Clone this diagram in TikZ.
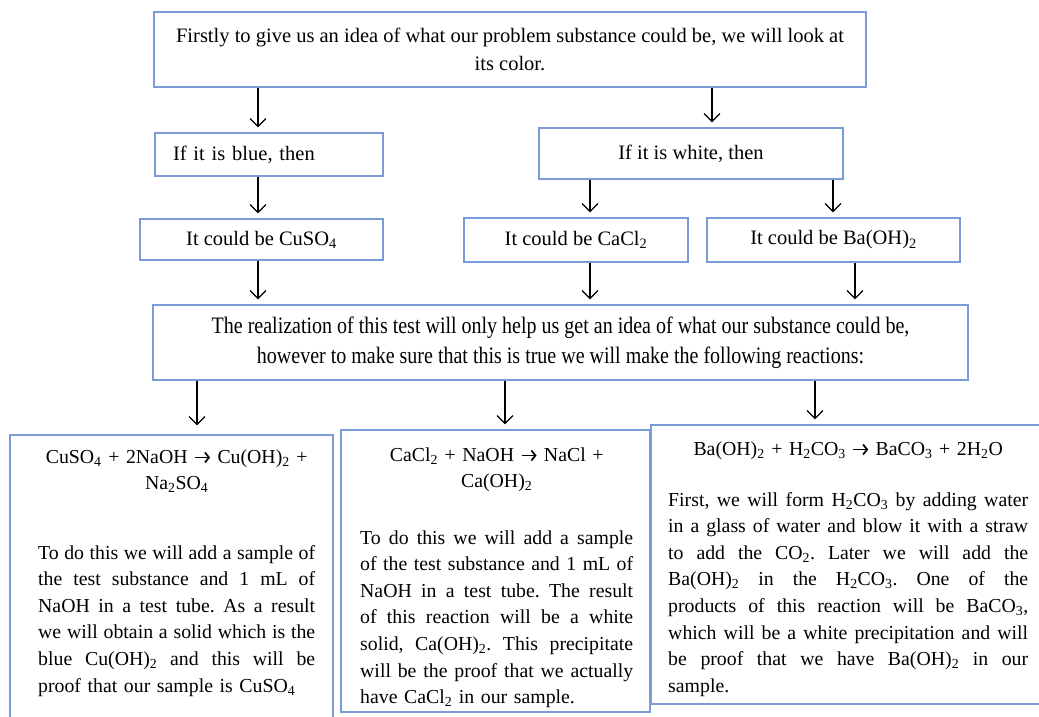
\documentclass[tikz,border=0pt]{standalone}
\usepackage{graphicx}
\usepackage{fontspec}
\setmainfont{Liberation Serif}
\usetikzlibrary{positioning, arrows.meta}
\definecolor{boxblue}{RGB}{122,156,214}
\tikzset{>={Straight Barb[length=8pt,width=16pt]}}
\frenchspacing
\newcommand{\bodysize}{\fontsize{20.5}{26.6}\selectfont}
\newcommand{\reactsize}{\fontsize{19.8}{26.6}\selectfont}
\newcommand{\sbs}[1]{\textsubscript{#1}}
\newcommand{\rarr}{\tikz[baseline=-5.5pt]\draw[line width=1.7pt, -{Straight Barb[length=4pt,width=10pt]}] (0pt,0pt) -- (15pt,0pt);}
\newcommand{\tallline}[1]{\scalebox{1}[1.18]{#1}}
\newcommand{\justline}[1]{\makebox[\linewidth][s]{\spaceskip=4.95pt plus 30pt minus 1.9pt\relax #1}}
\newcommand{\ctrline}[1]{\makebox[\linewidth]{#1}}

\begin{document}
\begin{tikzpicture}
    [
        x=1pt, y=-1pt,
        box/.style={rectangle, draw=boxblue, line width=1.1pt, inner sep=0pt, font=\bodysize},
        flow/.style={->, line width=1.3pt, shorten >=5pt},
        txt/.style={inner sep=0pt, anchor=base west, font=\reactsize},
    ]
  \clip (0,0) rectangle (1039,717);

  % question boxes
  \node[box, minimum width=712pt, minimum height=75pt, align=center, font=\fontsize{20.5}{28}\selectfont] (intro) at (510,49.5)
    {Firstly to give us an idea of what our problem substance could be, we will look at\\ its color.};
  \node[box, minimum width=228pt, minimum height=43pt, text width=192pt, inner xsep=18pt, align=left] (blue) at (269,154.5) {If it is blue, then};
  \node[box, minimum width=304pt, minimum height=51pt] (white) at (691,153.5) {If it is white, then};
  \node[box, minimum width=243pt, minimum height=41pt] (cuso) at (261.5,239.5) {It could be CuSO\sbs{4}};
  \node[box, minimum width=224pt, minimum height=44pt] (cacl) at (576,240) {It could be CaCl\sbs{2}};
  \node[box, minimum width=253pt, minimum height=44pt] (baoh) at (833.5,240) {It could be Ba(OH)\sbs{2}};
  \node[box, minimum width=815pt, minimum height=75pt, align=center, font=\fontsize{20}{30}\selectfont] (real) at (560.5,342.5)
    {\tallline{The realization of this test will only help us get an idea of what our substance could be,}\\
     \tallline{however to make sure that this is true we will make the following reactions:}};

  % reaction boxes
  \node[box, minimum width=323pt, minimum height=300pt] (rCu) at (171.5,585) {};
  \node[box, minimum width=309pt, minimum height=282pt] (rCa) at (495.5,571) {};
  \node[box, minimum width=394pt, minimum height=279pt] (rBa) at (848,564.5) {};

  \node[txt, text width=277pt] (tCu) at (38,463) {%
    \ctrline{CuSO\sbs{4} + 2NaOH \rarr{} Cu(OH)\sbs{2} +}\\
    \ctrline{Na\sbs{2}SO\sbs{4}}\\[42.8pt]
    \justline{To do this we will add a sample of}\\
    \justline{the test substance and 1 mL of}\\
    \justline{NaOH in a test tube. As a result}\\
    \justline{we will obtain a solid which is the}\\
    \justline{blue Cu(OH)\sbs{2} and this will be}\\
    proof that our sample is CuSO\sbs{4}};
  \node[txt, text width=273pt] (tCa) at (360,461) {%
    \ctrline{CaCl\sbs{2} + NaOH \rarr{} NaCl +}\\
    \ctrline{Ca(OH)\sbs{2}}\\[29.8pt]
    \justline{To do this we will add a sample}\\
    \justline{of the test substance and 1 mL of}\\
    \justline{NaOH in a test tube. The result}\\
    \justline{of this reaction will be a white}\\
    \justline{solid, Ca(OH)\sbs{2}. This precipitate}\\
    \justline{will be the proof that we actually}\\
    have CaCl\sbs{2} in our sample.};
  \node[txt, text width=360pt] (tBa) at (668,455) {%
    \ctrline{Ba(OH)\sbs{2} + H\sbs{2}CO\sbs{3} \rarr{} BaCO\sbs{3} + 2H\sbs{2}O}\\[24.4pt]
    \justline{First, we will form H\sbs{2}CO\sbs{3} by adding water}\\
    \justline{in a glass of water and blow it with a straw}\\
    \justline{to add the CO\sbs{2}. Later we will add the}\\
    \justline{Ba(OH)\sbs{2} in the H\sbs{2}CO\sbs{3}. One of the}\\
    \justline{products of this reaction will be BaCO\sbs{3},}\\
    \justline{which will be a white precipitation and will}\\
    \justline{be proof that we have Ba(OH)\sbs{2} in our}\\
    sample.};

  % arrows
  \draw[flow] (intro.south -| 258,0) -- (blue.north -| 258,0);
  \draw[flow] (intro.south -| 712,0) -- (white.north -| 712,0);
  \draw[flow] (blue.south -| 258,0) -- (cuso.north -| 258,0);
  \draw[flow] (white.south -| 590,0) -- (cacl.north -| 590,0);
  \draw[flow] (white.south -| 833,0) -- (baoh.north -| 833,0);
  \draw[flow] (cuso.south -| 258,0) -- (real.north -| 258,0);
  \draw[flow] (cacl.south -| 590,0) -- (real.north -| 590,0);
  \draw[flow] (baoh.south -| 855,0) -- (real.north -| 855,0);
  \draw[flow, shorten >=9pt] (real.south -| 197,0) -- (rCu.north -| 197,0);
  \draw[flow] (real.south -| 505,0) -- (rCa.north -| 505,0);
  \draw[flow] (real.south -| 815,0) -- (rBa.north -| 815,0);
\end{tikzpicture}
\end{document}
